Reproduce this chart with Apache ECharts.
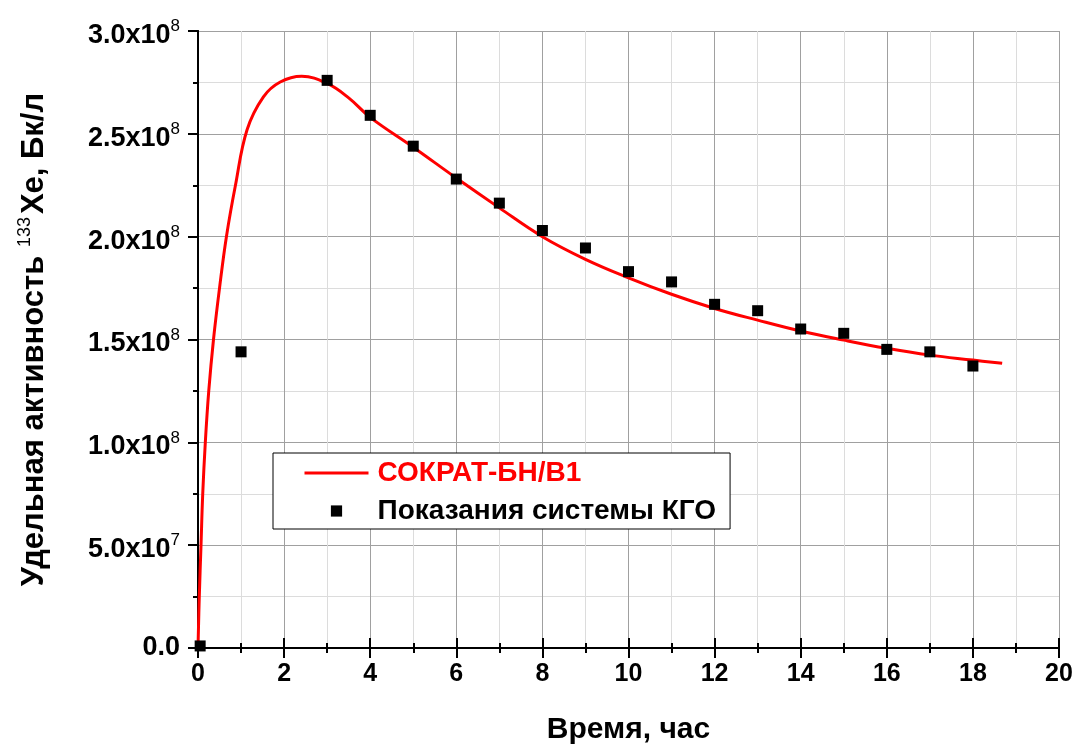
<!DOCTYPE html>
<html>
<head>
<meta charset="utf-8">
<script src="https://cdn.jsdelivr.net/npm/echarts@6/dist/echarts.min.js"></script>
<style>
  html, body { margin: 0; padding: 0; background: #fff; }
  #chart { width: 1076px; height: 746px; }
</style>
</head>
<body>
<div id="chart"></div>
<script>
// расчёт СОКРАТ-БН/В1 (кривая), значения в Бк/л
var calcTime = [0, 0.03, 0.07, 0.11, 0.17, 0.25, 0.36, 0.5, 0.66, 0.87, 1.14, 1.52, 1.91, 2.41, 3.0, 3.5,
                4, 5, 6, 7, 8, 9, 10, 11, 12, 13, 14, 15, 16, 17, 18, 18.68];
var calcActivity = [0, 0.25e8, 0.5e8, 0.75e8, 1.0e8, 1.25e8, 1.5e8, 1.75e8, 2.0e8, 2.25e8, 2.52e8, 2.68e8,
                    2.752e8, 2.78e8, 2.745e8, 2.675e8, 2.58e8, 2.435e8, 2.285e8, 2.14e8, 2.0e8, 1.89e8,
                    1.80e8, 1.72e8, 1.651e8, 1.594e8, 1.541e8, 1.497e8, 1.457e8, 1.424e8, 1.40e8, 1.384e8];

// показания системы КГО (точки)
var kgoTime = [0.05, 1, 3, 4, 5, 6, 7, 8, 9, 10, 11, 12, 13, 14, 15, 16, 17, 18];
var kgoActivity = [0.01e8, 1.44e8, 2.76e8, 2.59e8, 2.44e8, 2.28e8, 2.163e8, 2.03e8, 1.945e8, 1.83e8,
                   1.78e8, 1.671e8, 1.64e8, 1.551e8, 1.53e8, 1.452e8, 1.44e8, 1.371e8];

var xTicks = [0, 2, 4, 6, 8, 10, 12, 14, 16, 18, 20];

var FONT = '"Liberation Sans", Arial, sans-serif';

function yLabel(v) {
  if (v === 0) return '{z|0.0}';
  var e = Math.floor(Math.log10(v) + 1e-9);
  var m = (v / Math.pow(10, e)).toFixed(1);
  return '{a|' + m + 'x10}{b|' + e + '}';
}

var myChart = echarts.init(document.getElementById('chart'));

var option = {
  backgroundColor: '#fff',
  animation: false,
  textStyle: { fontFamily: FONT },
  grid: { left: 198, right: 17, top: 31, bottom: 98, containLabel: false, outerBoundsMode: 'none' },
  legend: {
    orient: 'vertical',
    left: 273,
    top: 453,
    padding: [5, 14, 3, 30],
    itemGap: 8,
    itemWidth: 64,
    itemHeight: 14,
    borderColor: '#000',
    borderWidth: 1,
    backgroundColor: '#fff',
    textStyle: { fontFamily: FONT, fontWeight: 'bold', fontSize: 28, lineHeight: 30, padding: [0, 0, 0, 4], color: '#000' },
    data: [
      { name: 'СОКРАТ-БН/В1', itemStyle: { opacity: 0 }, lineStyle: { width: 3, color: '#ff0000' }, textStyle: { color: '#ff0000' } },
      { name: 'Показания системы КГО' }
    ]
  },
  xAxis: [
    {
      type: 'value',
      position: 'bottom',
      min: 0, max: 20, interval: 2,
      name: 'Время, час',
      nameLocation: 'middle',
      nameGap: 67,
      nameTextStyle: { fontFamily: FONT, fontWeight: 'bold', fontSize: 30, color: '#000' },
      axisLine: { show: true, lineStyle: { color: '#000', width: 2 } },
      axisTick: { show: true, length: 10, lineStyle: { color: '#000', width: 2 } },
      minorTick: { show: true, splitNumber: 2, length: 5, lineStyle: { color: '#000', width: 2 } },
      axisLabel: {
        margin: 14, fontFamily: FONT, fontWeight: 'bold', fontSize: 25, color: '#000',
        formatter: function (v) { return xTicks.indexOf(v) >= 0 ? String(v) : ''; }
      },
      splitLine: { show: true, lineStyle: { color: '#a0a0a0', width: 1 } },
      minorSplitLine: { show: true, lineStyle: { color: '#dcdcdc', width: 1 } }
    },
    {
      type: 'value',
      position: 'top',
      min: 0, max: 20, interval: 2,
      axisLine: { show: true, lineStyle: { color: '#000', width: 2 } },
      axisTick: { show: true, length: 10, lineStyle: { color: '#000', width: 2 } },
      minorTick: { show: true, splitNumber: 2, length: 5, lineStyle: { color: '#000', width: 2 } },
      axisLabel: { show: false },
      splitLine: { show: false }
    }
  ],
  yAxis: [
    {
      type: 'value',
      position: 'left',
      min: 0, max: 3e8, interval: 0.5e8,
      name: '{t|Удельная активность }{s|133}{t|Xe, Бк/л}',
      nameLocation: 'middle',
      nameRotate: 90,
      nameGap: 146,
      nameTextStyle: {
        color: '#000',
        rich: {
          t: { fontFamily: FONT, fontWeight: 'bold', fontSize: 31, lineHeight: 36, color: '#000' },
          s: { fontFamily: FONT, fontWeight: 'normal', fontSize: 18, lineHeight: 36, verticalAlign: 'top', padding: [0, 3, 14, 0], color: '#000' }
        }
      },
      axisLine: { show: true, lineStyle: { color: '#000', width: 2 } },
      axisTick: { show: true, length: 10, lineStyle: { color: '#000', width: 2 } },
      minorTick: { show: true, splitNumber: 2, length: 5, lineStyle: { color: '#000', width: 2 } },
      axisLabel: {
        margin: 18,
        formatter: yLabel,
        rich: {
          a: { fontFamily: FONT, fontWeight: 'bold', fontSize: 27, lineHeight: 26, padding: [9, 0, 0, 0], color: '#000' },
          b: { fontFamily: FONT, fontWeight: 'normal', fontSize: 17, lineHeight: 17, verticalAlign: 'top', color: '#000' },
          z: { fontFamily: FONT, fontWeight: 'bold', fontSize: 27, lineHeight: 26, color: '#000' }
        }
      },
      splitLine: { show: true, lineStyle: { color: '#a0a0a0', width: 1 } },
      minorSplitLine: { show: true, lineStyle: { color: '#dcdcdc', width: 1 } }
    },
    {
      type: 'value',
      position: 'right',
      min: 0, max: 3e8, interval: 0.5e8,
      axisLine: { show: true, lineStyle: { color: '#000', width: 2 } },
      axisTick: { show: false },
      axisLabel: { show: false },
      splitLine: { show: false }
    }
  ],
  series: [
    {
      name: 'СОКРАТ-БН/В1',
      type: 'line',
      xAxisIndex: 0,
      yAxisIndex: 0,
      data: calcTime.map(function (t, i) { return [t, calcActivity[i]]; }),
      smooth: 0.4,
      symbol: 'none',
      showSymbol: false,
      lineStyle: { color: '#ff0000', width: 3 },
      itemStyle: { color: '#ff0000' },
      z: 3
    },
    {
      name: 'Показания системы КГО',
      type: 'line',
      xAxisIndex: 0,
      yAxisIndex: 0,
      data: kgoTime.map(function (t, i) { return [t, kgoActivity[i]]; }),
      symbol: 'rect',
      symbolSize: 11,
      showSymbol: true,
      lineStyle: { width: 0, opacity: 0 },
      itemStyle: { color: '#000' },
      z: 4
    }
  ]
};

myChart.setOption(option);
</script>
</body>
</html>
